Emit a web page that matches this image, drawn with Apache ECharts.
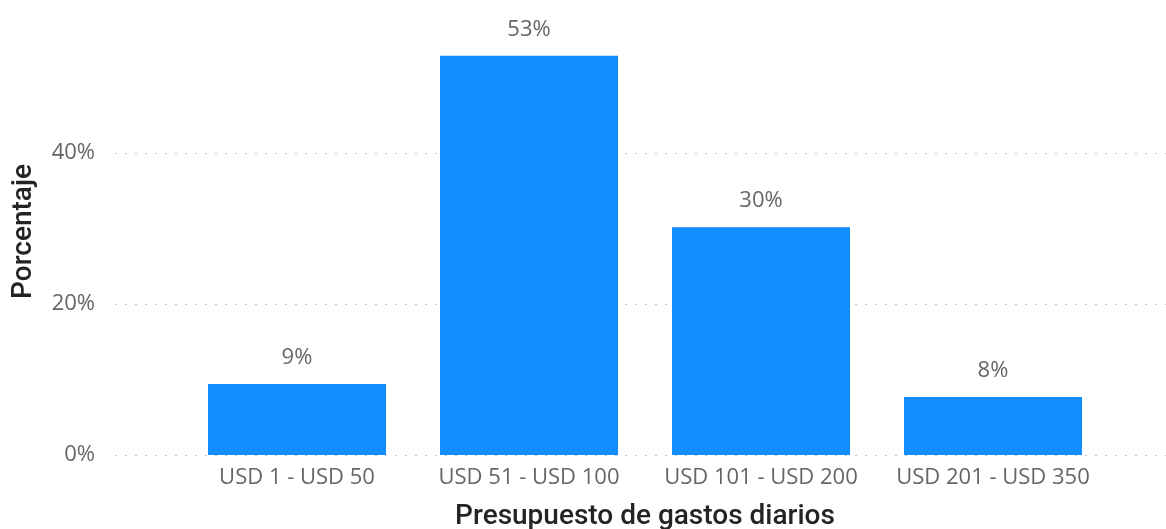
<!DOCTYPE html>
<html>
<head>
<meta charset="utf-8">
<script src="https://cdn.jsdelivr.net/npm/echarts@6/dist/echarts.min.js"></script>
<style>
  html, body { margin: 0; padding: 0; background: #fff; }
  #chart { width: 1166px; height: 529px; }
</style>
</head>
<body>
<div id="chart"></div>
<script>
var myChart = echarts.init(document.getElementById('chart'));

// datos
var categorias = ['USD 1 - USD 50', 'USD 51 - USD 100', 'USD 101 - USD 200', 'USD 201 - USD 350'];
var porcentajes = [9.4, 52.9, 30.2, 7.7];
var ticksY = [0, 20, 40];

var pxPorUnidad = 415 / 55; // grid de barras: top 40, bottom 74, max 55
var maxFondo = (455 - 8) / pxPorUnidad;

option = {
    backgroundColor: '#ffffff',
    animation: false,
    grid: [
        { left: 181, right: 57, top: 40, bottom: 74, containLabel: false, outerBoundsMode: 'none' },
        { left: 115, right: 0, top: 8, bottom: 74, containLabel: false, outerBoundsMode: 'none' }
    ],
    xAxis: [
        {
            type: 'category',
            gridIndex: 0,
            data: categorias,
            axisLine: { show: false },
            axisTick: { show: false },
            axisLabel: {
                interval: 0,
                hideOverlap: false,
                margin: 12,
                fontSize: 22,
                color: '#666666',
                fontFamily: 'Open Sans'
            },
            name: 'Presupuesto de gastos diarios',
            nameLocation: 'middle',
            nameGap: 48,
            nameTextStyle: {
                fontSize: 28,
                color: '#252423',
                fontFamily: 'Roboto',
                fontWeight: 500
            }
        },
        {
            type: 'value',
            gridIndex: 1,
            show: false
        }
    ],
    yAxis: [
        {
            type: 'value',
            gridIndex: 0,
            min: 0,
            max: 55,
            show: false
        },
        {
            type: 'value',
            gridIndex: 1,
            min: 0,
            max: maxFondo,
            interval: 20,
            axisLine: { show: false },
            axisTick: { show: false },
            axisLabel: {
                margin: 20,
                fontSize: 22,
                color: '#666666',
                fontFamily: 'Open Sans',
                showMaxLabel: false,
                formatter: function (v) {
                    return ticksY.indexOf(v) >= 0 ? v + '%' : '';
                }
            },
            splitLine: {
                show: true,
                showMaxLine: false,
                lineStyle: { color: '#c4c4c4', type: [2, 8], width: 1 }
            },
            name: 'Porcentaje',
            nameLocation: 'middle',
            nameRotate: 90,
            nameGap: 77,
            nameTextStyle: {
                fontSize: 28,
                color: '#252423',
                fontFamily: 'Roboto',
                fontWeight: 500
            }
        }
    ],
    series: [
        {
            name: 'Porcentaje',
            type: 'bar',
            xAxisIndex: 0,
            yAxisIndex: 0,
            barWidth: 178,
            data: porcentajes,
            itemStyle: { color: '#118DFF' },
            label: {
                show: true,
                position: 'top',
                distance: 15,
                fontSize: 22,
                color: '#666666',
                fontFamily: 'Open Sans',
                formatter: function (p) {
                    return Math.round(p.value) + '%';
                }
            }
        }
    ]
};

myChart.setOption(option);
</script>
</body>
</html>
